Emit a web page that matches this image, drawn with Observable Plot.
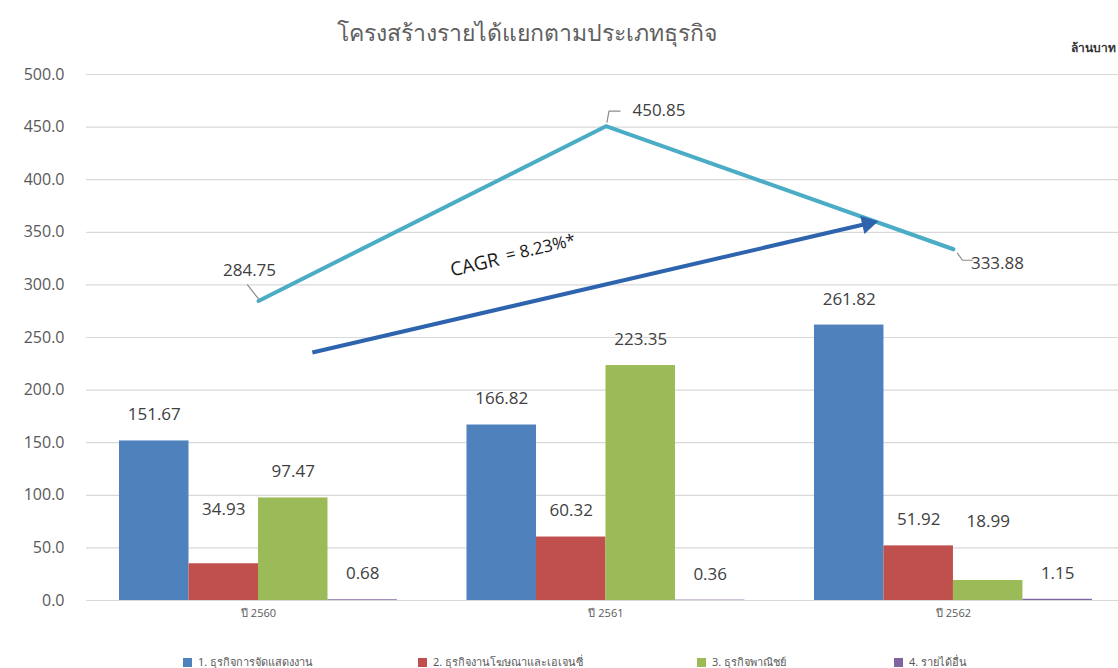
<!DOCTYPE html>
<html><head><meta charset="utf-8">
<script src="https://cdn.jsdelivr.net/npm/d3@7"></script>
<script src="https://cdn.jsdelivr.net/npm/@observablehq/plot@0.6"></script>
<style>
body{margin:0;background:#fff;overflow:hidden;font-family:"Noto Sans","Open Sans",sans-serif}
#wrap{position:relative;width:1118px;height:668px}
#wrap svg{position:absolute;left:0;top:0}
#title{position:absolute;top:15px;left:0;width:1054px;text-align:center;font-size:23px;color:#5f5f5f}
#unit{position:absolute;top:38px;right:2px;font-size:12px;font-weight:bold;color:#333}
.leg{position:absolute;top:653px;font-size:11px;color:#595959;display:flex;align-items:center;white-space:nowrap}
.leg i{display:inline-block;width:9px;height:9px;margin-right:6px}
</style></head><body><div id="wrap"></div>
<script>
// ---- data ----
const years = ["ปี 2560", "ปี 2561", "ปี 2562"];
const seriesNames = ["1. ธุรกิจการจัดแสดงงาน", "2. ธุรกิจงานโฆษณาและเอเจนซี่", "3. ธุรกิจพาณิชย์", "4. รายได้อื่น"];
const exhibition = [151.67, 166.82, 261.82];
const advertising = [34.93, 60.32, 51.92];
const commerce = [97.47, 223.35, 18.99];
const otherIncome = [0.68, 0.36, 1.15];
const totals = [284.75, 450.85, 333.88];
const yTicks = [0, 50, 100, 150, 200, 250, 300, 350, 400, 450, 500];
const titleText = "โครงสร้างรายได้แยกตามประเภทธุรกิจ";
const unitText = "ล้านบาท";
const cagrParts = ["CAGR", "= 8.23%*"];
// annotation arrow (year index, value)
const cagrArrow = [{x1: 0.155, y1: 235.7, x2: 1.767, y2: 359.3}];

// ---- layout / styles ----
const W = 1118, H = 668, mL = 86, mR = 0, mT = 74, mB = 68;
const xDomain = [-0.495, 2.475];
const colors = ["#4f81bd", "#c0504d", "#9bbb59", "#8064a2"];
const kx = (W - mL - mR) / (xDomain[1] - xDomain[0]);
const ky = (H - mT - mB) / 500;

const seriesValues = [exhibition, advertising, commerce, otherIncome];
const bars = [];
years.forEach((yr, yi) => seriesValues.forEach((vals, si) => {
  const x1 = yi - 0.4 + si * 0.2;
  bars.push({yi, si, value: vals[yi], x1, x2: x1 + 0.2, xc: x1 + 0.1});
}));

// label nudges (pixels) for overlapping labels
const nudge = {"0-1": -28, "2-2": -33};
const labelDy = d => -26 + (nudge[d.yi + "-" + d.si] || 0);

const lineLabelOffsets = [[-9, -30], [53, -16], [44, 14]];
const leaderOffsets = [
  [[-11, -16], [0, -2]],
  [[1, -4], [3, -15], [14, -15]],
  [[4, 4], [9, 11], [19, 11]]
];
const leaders = [];
leaderOffsets.forEach((pts, i) => pts.forEach(([ox, oy]) =>
  leaders.push({id: i, x: i + ox / kx, y: totals[i] - oy / ky})));

const labelMarks = [];
[...new Set(bars.map(labelDy))].forEach(dy => {
  labelMarks.push(Plot.text(bars.filter(d => labelDy(d) === dy), {
    x: "xc", y: "value", text: d => d.value.toFixed(2), dy,
    fontSize: 17, fill: "#404040"
  }));
});
const lineLabelMarks = totals.map((v, i) => Plot.text([{i, v}], {
  x: "i", y: "v", text: d => d.v.toFixed(2),
  dx: lineLabelOffsets[i][0], dy: lineLabelOffsets[i][1], fontSize: 17, fill: "#404040"
}));

// arrow geometry in pixels for the filled head
const a = cagrArrow[0];
const angle = Math.atan2((a.y2 - a.y1) * ky, (a.x2 - a.x1) * kx) * 180 / Math.PI;
const headBack = 5;
const cosA = Math.cos(angle * Math.PI / 180), sinA = Math.sin(angle * Math.PI / 180);
const shaft = [{x1: a.x1, y1: a.y1, x2: a.x2 - (headBack + 4) * cosA / kx, y2: a.y2 - (headBack + 4) * sinA / ky}];
const head = [{x: a.x2 - headBack * cosA / kx, y: a.y2 - headBack * sinA / ky}];

const chart = Plot.plot({
  width: W, height: H, marginLeft: mL, marginRight: mR, marginTop: mT, marginBottom: mB,
  x: {domain: xDomain, axis: null},
  y: {domain: [0, 500], axis: null},
  style: {fontFamily: "'Open Sans','Noto Sans',sans-serif", background: "transparent", overflow: "visible"},
  marks: [
    Plot.ruleY(yTicks, {stroke: "#d9d9d9", strokeWidth: 1.2}),
    Plot.axisY(yTicks, {anchor: "left", tickSize: 0, tickPadding: 22, tickFormat: d => d.toFixed(1), fontSize: 16, fill: "#595959"}),
    Plot.axisX([0, 1, 2], {anchor: "bottom", tickSize: 0, tickPadding: 9, tickFormat: i => years[i], fontSize: 11, fill: "#595959"}),
    Plot.rectY(bars, {x1: "x1", x2: "x2", y: "value", fill: d => colors[d.si]}),
    ...labelMarks,
    Plot.line(totals.map((v, i) => ({i, v})), {x: "i", y: "v", stroke: "#4bacc6", strokeWidth: 4}),
    Plot.line(leaders, {x: "x", y: "y", z: "id", stroke: "#8c8c8c", strokeWidth: 1.2}),
    ...lineLabelMarks,
    Plot.link(shaft, {x1: "x1", y1: "y1", x2: "x2", y2: "y2", stroke: "#2e64ae", strokeWidth: 4}),
    Plot.dot(head, {x: "x", y: "y", symbol: "triangle", r: 7, fill: "#2e64ae", rotate: 90 - angle}),
    Plot.text([cagrParts[0]], {x: () => 0.5526, y: () => 313.7, text: d => d, textAnchor: "start", rotate: -13, fontSize: 19, fill: "#1a1a1a"}),
    Plot.text([cagrParts[1]], {x: () => 0.712, y: () => 327.5, text: d => d, textAnchor: "start", rotate: -13, fontSize: 17, fill: "#1a1a1a"})
  ]
});

const wrap = d3.select("#wrap");
wrap.node().appendChild(chart);
wrap.append("div").attr("id", "title").text(titleText);
wrap.append("div").attr("id", "unit").text(unitText);
const legLeft = [183, 418, 697, 894];
seriesNames.forEach((s, i) => {
  const item = wrap.append("div").attr("class", "leg").style("left", legLeft[i] + "px");
  item.append("i").style("background", colors[i]);
  item.append("span").text(s);
});
</script>
</body></html>
